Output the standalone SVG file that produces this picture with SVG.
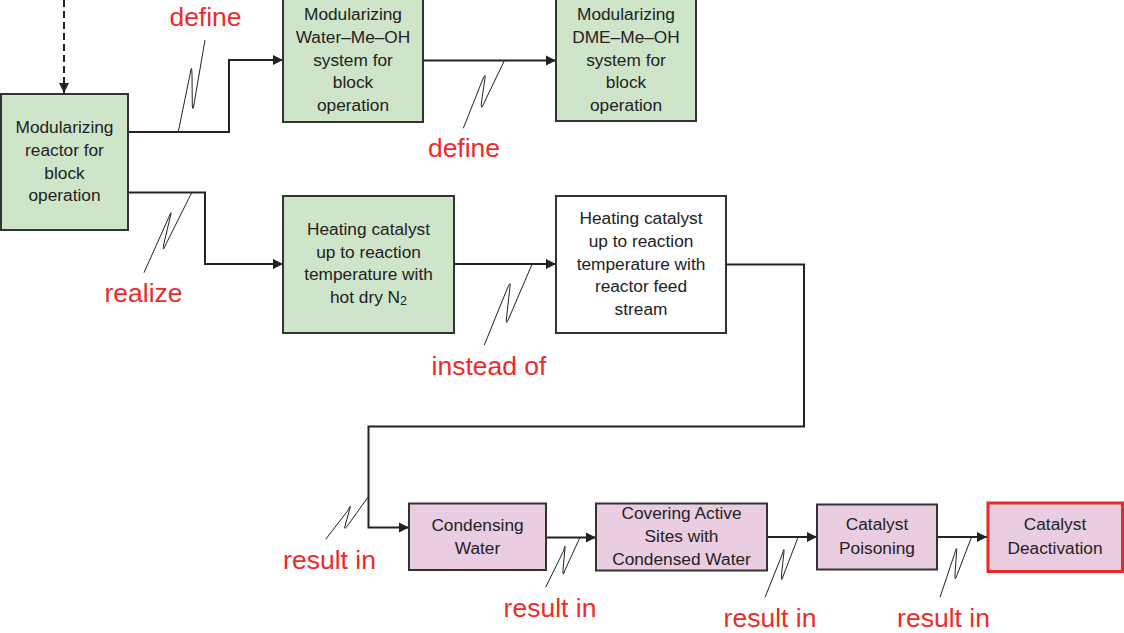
<svg xmlns="http://www.w3.org/2000/svg" width="1124" height="633" viewBox="0 0 1124 633">
  <style>
    .box { stroke: #333; stroke-width: 2; }
    .green { fill: #cfe5ca; }
    .pink { fill: #ebcde2; }
    .white { fill: #ffffff; }
    .alert { fill: #ebcde2; stroke: #e42a2a; stroke-width: 3; }
    .t { font-family: "Liberation Sans", Arial, sans-serif; font-size: 17.3px; fill: #222; text-anchor: middle; }
    .lbl { font-family: "Liberation Sans", Arial, sans-serif; font-size: 26.5px; fill: #ee2a2a; text-anchor: middle; }
    .wire { fill: none; stroke: #222; stroke-width: 2; }
    .dash { fill: none; stroke: #222; stroke-width: 2; stroke-dasharray: 7 4; }
    .lead { fill: none; stroke: #222; stroke-width: 1; stroke-linejoin: round; }
  </style>
  <defs>
    <marker id="arr" viewBox="0 0 10 10" refX="10" refY="5" markerWidth="10" markerHeight="11" markerUnits="userSpaceOnUse" orient="auto">
      <path d="M0,0 L10,5 L0,10 Z" fill="#222"/>
    </marker>
  </defs>

  <rect width="1124" height="633" fill="#ffffff"/>

  <!-- connectors and their leader squiggles -->
  <g id="connectors">
    <path class="dash" d="M64,0 V93" marker-end="url(#arr)"/>
    <path class="wire" d="M128,132 H229 V60 H283" marker-end="url(#arr)"/>
    <path class="wire" d="M423,60.5 H556" marker-end="url(#arr)"/>
    <path class="wire" d="M128,192.5 H205 V264 H283" marker-end="url(#arr)"/>
    <path class="wire" d="M454,264 H556" marker-end="url(#arr)"/>
    <path class="wire" d="M726,264.5 H804 V426.5 H368.5 V527.5 H409" marker-end="url(#arr)"/>
    <path class="wire" d="M546,537.5 H596" marker-end="url(#arr)"/>
    <path class="wire" d="M767,537 H817" marker-end="url(#arr)"/>
    <path class="wire" d="M937,537 H987" marker-end="url(#arr)"/>

    <!-- leader squiggles: connector point, far turn, near turn, label end -->
    <path class="lead" d="M178.3,131.7 L190.5,72 Q191.7,64 192,74 L192.3,106 Q192.8,112 194,104 L205,40"/>
    <path class="lead" d="M504.3,60.7 L484,103 Q480.5,112 481.5,102 L485,78 Q486,72 482.5,80 L463.3,128.3"/>
    <path class="lead" d="M191.7,192.7 L166,244 Q162,254 163.8,244 L170.7,215 Q172,209 168.5,218 L144,272.7"/>
    <path class="lead" d="M531.7,265 L509,318 Q505.5,327 506.5,318 L510,286.7 Q511,280 507.5,288 L484.3,345"/>
    <path class="lead" d="M368.3,496.7 L348,525 Q343,532 345.5,524 L350,508.3 Q351.5,503 347.5,511 L325.7,539.3"/>
    <path class="lead" d="M580,537.3 L565,570 Q562.5,578 563,570 L565,548.3 Q565.5,543 563.5,551 L545.7,587.3"/>
    <path class="lead" d="M798.3,536.7 L783.5,575 Q781,584 781.5,575 L784,551.7 Q784.5,546 782,555 L765,597.3"/>
    <path class="lead" d="M971.7,536.7 L957,575 Q954.5,583 955,574 L956.7,550.7 Q957,545 954.5,554 L940,597.3"/>

    <text class="lbl" x="205.5" y="26">define</text>
    <text class="lbl" x="464" y="157">define</text>
    <text class="lbl" x="143.5" y="302">realize</text>
    <text class="lbl" x="489" y="375">instead of</text>
    <text class="lbl" x="329.5" y="569">result in</text>
    <text class="lbl" x="550" y="617">result in</text>
    <text class="lbl" x="770" y="627">result in</text>
    <text class="lbl" x="943.5" y="627">result in</text>
  </g>

  <g id="reactor">
    <rect class="box green" x="1" y="94" width="127" height="136"/>
    <text class="t" x="64.5" y="133">Modularizing</text>
    <text class="t" x="64.5" y="156">reactor for</text>
    <text class="t" x="64.5" y="178.5">block</text>
    <text class="t" x="64.5" y="201">operation</text>
  </g>

  <g id="water-system">
    <rect class="box green" x="283" y="-2" width="140" height="124"/>
    <text class="t" x="353" y="20">Modularizing</text>
    <text class="t" x="353" y="43">Water–Me–OH</text>
    <text class="t" x="353" y="65.5">system for</text>
    <text class="t" x="353" y="88">block</text>
    <text class="t" x="353" y="111">operation</text>
  </g>

  <g id="dme-system">
    <rect class="box green" x="556" y="-2" width="140" height="123"/>
    <text class="t" x="626" y="20">Modularizing</text>
    <text class="t" x="626" y="43">DME–Me–OH</text>
    <text class="t" x="626" y="65.5">system for</text>
    <text class="t" x="626" y="88">block</text>
    <text class="t" x="626" y="111">operation</text>
  </g>

  <g id="heat-n2">
    <rect class="box green" x="283" y="196" width="171" height="137"/>
    <text class="t" x="368.5" y="235">Heating catalyst</text>
    <text class="t" x="368.5" y="257.5">up to reaction</text>
    <text class="t" x="368.5" y="280">temperature with</text>
    <text class="t" x="368.5" y="303">hot dry N<tspan font-size="12.5" dy="2">2</tspan></text>
  </g>

  <g id="heat-feed">
    <rect class="box white" x="556" y="196" width="170" height="137"/>
    <text class="t" x="641" y="223.5">Heating catalyst</text>
    <text class="t" x="641" y="246.5">up to reaction</text>
    <text class="t" x="641" y="269.5">temperature with</text>
    <text class="t" x="641" y="292">reactor feed</text>
    <text class="t" x="641" y="314.5">stream</text>
  </g>

  <g id="condensing">
    <rect class="box pink" x="409" y="503.5" width="137" height="66.5"/>
    <text class="t" x="477.5" y="531">Condensing</text>
    <text class="t" x="477.5" y="553.5">Water</text>
  </g>

  <g id="covering">
    <rect class="box pink" x="596" y="503.5" width="171" height="67"/>
    <text class="t" x="681.5" y="519">Covering Active</text>
    <text class="t" x="681.5" y="542">Sites with</text>
    <text class="t" x="681.5" y="565">Condensed Water</text>
  </g>

  <g id="poisoning">
    <rect class="box pink" x="817" y="504.5" width="120" height="65"/>
    <text class="t" x="877" y="530">Catalyst</text>
    <text class="t" x="877" y="553.5">Poisoning</text>
  </g>

  <g id="deactivation">
    <rect class="alert" x="988" y="503" width="134.5" height="68.5"/>
    <text class="t" x="1055" y="530">Catalyst</text>
    <text class="t" x="1055" y="553.5">Deactivation</text>
  </g>
</svg>
